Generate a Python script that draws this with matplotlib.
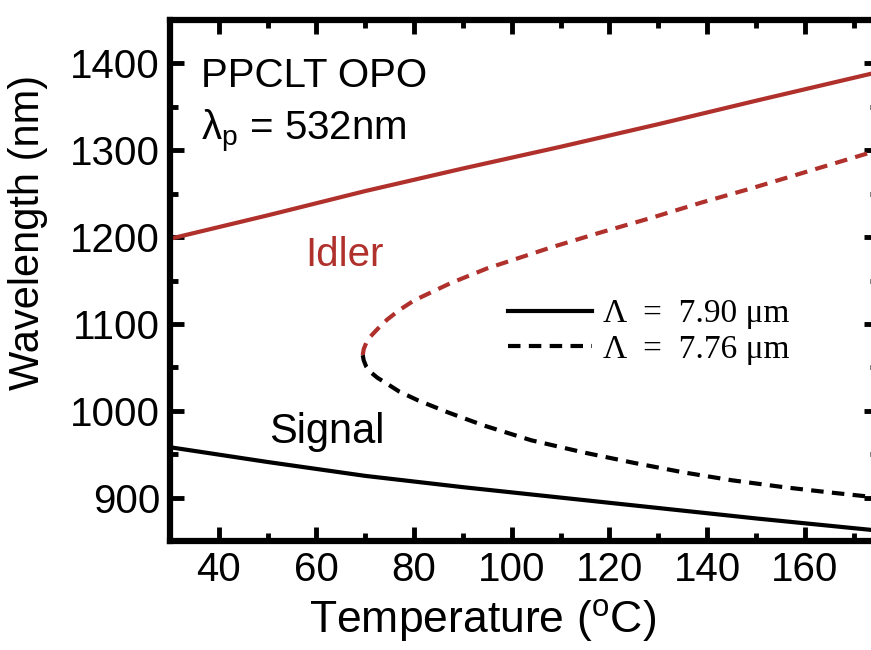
import matplotlib.pyplot as plt
from matplotlib.lines import Line2D
from matplotlib.ticker import MultipleLocator

plt.rcParams["font.family"] = ["Liberation Sans", "DejaVu Sans"]
plt.rcParams["mathtext.fontset"] = "custom"
plt.rcParams["mathtext.rm"] = "Liberation Sans"

# Lambda = 7.90 um (solid)
temp_790 = [30, 50, 70, 90, 110, 130, 150, 175]
idler_790 = [1198, 1225, 1253, 1279, 1304, 1330, 1357, 1390]
signal_790 = [958, 941, 925, 912, 900, 888, 876, 862]

# Lambda = 7.76 um (dashed), idler branch and signal branch
temp_776_idler = [69.5, 69.7, 70.2, 71, 72.5, 74.5, 77, 80, 87.5, 95, 108, 118, 128.5, 139, 149, 162.6, 175]
idler_776 = [1064, 1071, 1078, 1085, 1094, 1105, 1116, 1127, 1147, 1164, 1188, 1205, 1222, 1240, 1256, 1279, 1300]
temp_776_signal = [69.5, 69.7, 70.2, 71, 72.5, 74.5, 77, 80.8, 87, 94.3, 104, 114.7, 125, 135.2, 145, 155.7, 165, 175]
signal_776 = [1064, 1058, 1051, 1045, 1038, 1031, 1022, 1012, 998, 983, 966, 952, 940, 929, 920, 912, 906, 900]

rojo = "#b0302c"
dash = (0, (3, 2))

fig = plt.figure(figsize=(8.71, 6.5), dpi=100)
ax = fig.add_axes([0.195, 0.1677, 0.813, 0.8015])

ax.plot(temp_790, idler_790, color=rojo, lw=3)
ax.plot(temp_790, signal_790, color="black", lw=3)
ax.plot(temp_776_idler, idler_776, color=rojo, lw=3, linestyle=dash)
ax.plot(temp_776_signal, signal_776, color="black", lw=3, linestyle=dash)

ax.set_xlim(30, 175)
ax.set_ylim(850, 1450)
ax.xaxis.set_major_locator(MultipleLocator(20))
ax.xaxis.set_minor_locator(MultipleLocator(10))
ax.yaxis.set_major_locator(MultipleLocator(100))
ax.yaxis.set_minor_locator(MultipleLocator(50))

for s in ax.spines.values():
    s.set_linewidth(4.5)
ax.tick_params(which="both", direction="in", top=True, right=True, labelsize=29, pad=7)
ax.tick_params(which="major", length=10, width=3.5)
ax.tick_params(which="minor", length=6, width=3.5)
for t in ax.xaxis.get_major_ticks() + ax.yaxis.get_major_ticks() + ax.xaxis.get_minor_ticks() + ax.yaxis.get_minor_ticks():
    t.tick1line.set_solid_capstyle("round")
    t.tick2line.set_solid_capstyle("round")

ax.set_xlabel("Temperature ($^\\mathregular{o}$C)", fontsize=32)
ax.set_ylabel("Wavelength (nm)", fontsize=30)
ax.xaxis.set_label_coords(0.441, -0.108)
ax.yaxis.set_label_coords(-0.172, 0.593)

ax.text(36.3, 1385, "PPCLT OPO", fontsize=29, va="center")
ax.text(36.3, 1322, "$\\mathregular{\\lambda_p}$ = 532nm", fontsize=29, va="center")
ax.text(57.8, 1179, "Idler", fontsize=29, color=rojo, va="center")
ax.text(50.3, 976, "Signal", fontsize=30, va="center")

legend_items = [
    Line2D([0], [0], color="black", lw=3, label="Λ  =  7.90 μm"),
    Line2D([0], [0], color="black", lw=3, linestyle=dash, label="Λ  =  7.76 μm"),
]
ax.legend(handles=legend_items, loc="upper left", bbox_to_anchor=(0.478, 0.465),
          frameon=False, prop={"family": "Liberation Serif", "size": 24},
          handlelength=2.5, handletextpad=0.35, labelspacing=0.15, borderpad=0,
          borderaxespad=0)

fig.savefig("out.png", dpi=100)
